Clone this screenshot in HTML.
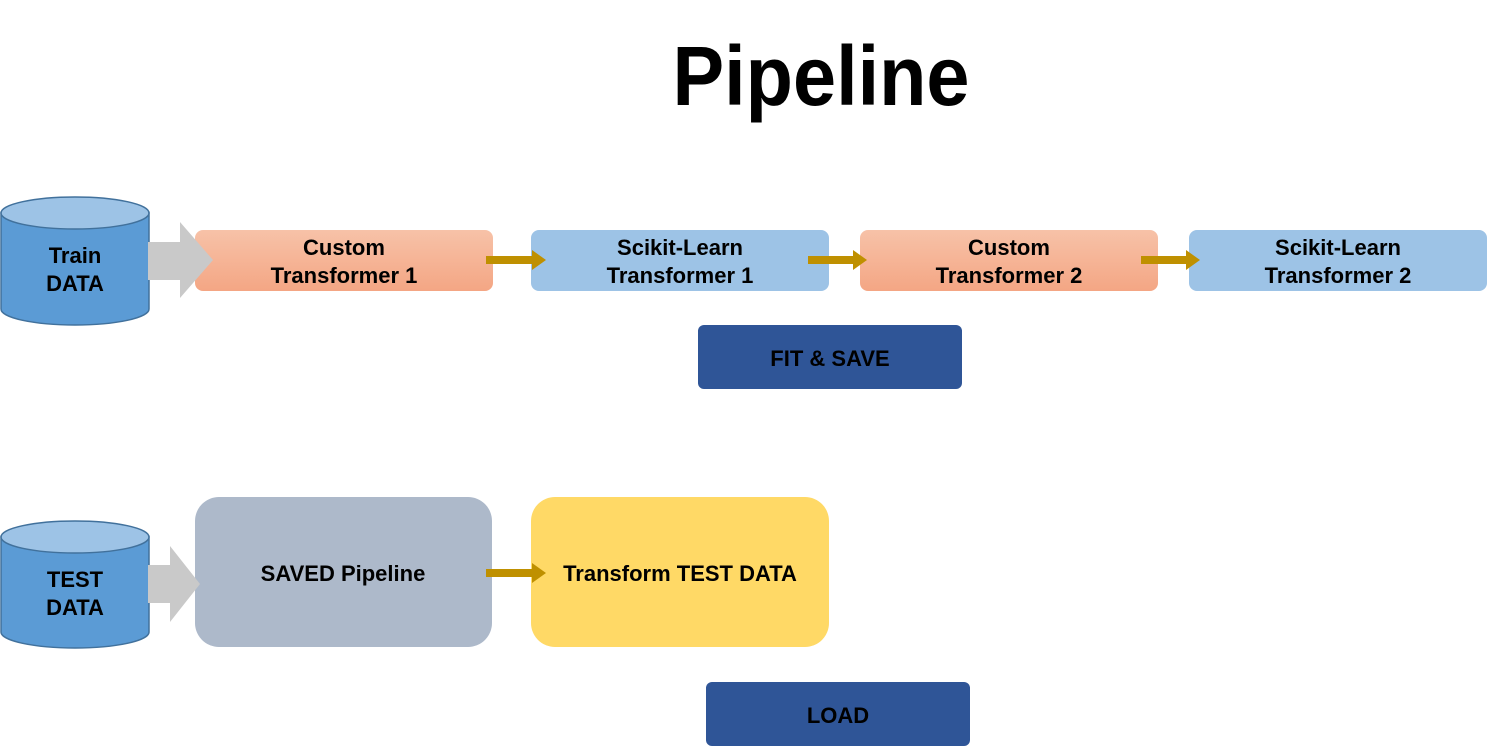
<!DOCTYPE html>
<html><head><meta charset="utf-8"><style>
html,body{margin:0;padding:0;background:#fff;}
svg{display:block;}
text{font-family:"Liberation Sans",sans-serif;font-weight:bold;fill:#000;}
</style></head><body>
<svg width="1488" height="748" viewBox="0 0 1488 748" xmlns="http://www.w3.org/2000/svg">
<defs>
<linearGradient id="org" x1="0" y1="0" x2="0" y2="1"><stop offset="0" stop-color="#F7C2A8"/><stop offset="1" stop-color="#F4A684"/></linearGradient>
</defs>
<text x="821" y="105" font-size="84" text-anchor="middle" textLength="297" lengthAdjust="spacingAndGlyphs">Pipeline</text>

<!-- Train cylinder -->
<path d="M1,213 L1,309 A74,16 0 0 0 149,309 L149,213 Z" fill="#5B9BD5" stroke="#41719C" stroke-width="1.5"/>
<ellipse cx="75" cy="213" rx="74" ry="16" fill="#9DC3E6" stroke="#41719C" stroke-width="1.5"/>
<text x="75" y="263" font-size="22" text-anchor="middle">Train</text>
<text x="75" y="291" font-size="22" text-anchor="middle">DATA</text>

<rect x="195" y="230" width="298" height="61" rx="8" fill="url(#org)"/>
<text x="344" y="255" font-size="22" text-anchor="middle">Custom</text>
<text x="344" y="283" font-size="22" text-anchor="middle">Transformer 1</text>
<rect x="531" y="230" width="298" height="61" rx="8" fill="#9DC3E6"/>
<text x="680" y="255" font-size="22" text-anchor="middle">Scikit-Learn</text>
<text x="680" y="283" font-size="22" text-anchor="middle">Transformer 1</text>
<rect x="860" y="230" width="298" height="61" rx="8" fill="url(#org)"/>
<text x="1009" y="255" font-size="22" text-anchor="middle">Custom</text>
<text x="1009" y="283" font-size="22" text-anchor="middle">Transformer 2</text>
<rect x="1189" y="230" width="298" height="61" rx="8" fill="#9DC3E6"/>
<text x="1338" y="255" font-size="22" text-anchor="middle">Scikit-Learn</text>
<text x="1338" y="283" font-size="22" text-anchor="middle">Transformer 2</text>

<polygon points="148,242 180,242 180,222 213,260 180,298 180,280 148,280" fill="#C9C9C9"/>

<rect x="698" y="325" width="264" height="64" rx="6" fill="#2F5597"/>
<text x="830" y="366" font-size="22" text-anchor="middle">FIT &amp; SAVE</text>

<!-- Test cylinder -->
<path d="M1,537 L1,632 A74,16 0 0 0 149,632 L149,537 Z" fill="#5B9BD5" stroke="#41719C" stroke-width="1.5"/>
<ellipse cx="75" cy="537" rx="74" ry="16" fill="#9DC3E6" stroke="#41719C" stroke-width="1.5"/>
<text x="75" y="587" font-size="22" text-anchor="middle">TEST</text>
<text x="75" y="615" font-size="22" text-anchor="middle">DATA</text>

<rect x="195" y="497" width="297" height="150" rx="24" fill="#ADB9CA"/>
<text x="343" y="581" font-size="22" text-anchor="middle">SAVED Pipeline</text>
<rect x="531" y="497" width="298" height="150" rx="24" fill="#FFD966"/>
<text x="680" y="581" font-size="22" text-anchor="middle">Transform TEST DATA</text>

<polygon points="148,565 170,565 170,546 200,584 170,622 170,603 148,603" fill="#C9C9C9"/>

<g fill="#BF9000">
<polygon points="486,256 532,256 532,250 546,260 532,270 532,264 486,264"/>
<polygon points="808,256 853,256 853,250 867,260 853,270 853,264 808,264"/>
<polygon points="1141,256 1186,256 1186,250 1200,260 1186,270 1186,264 1141,264"/>
<polygon points="486,569 532,569 532,563 546,573 532,583 532,577 486,577"/>
</g>

<rect x="706" y="682" width="264" height="64" rx="6" fill="#2F5597"/>
<text x="838" y="723" font-size="22" text-anchor="middle">LOAD</text>
</svg>
</body></html>
